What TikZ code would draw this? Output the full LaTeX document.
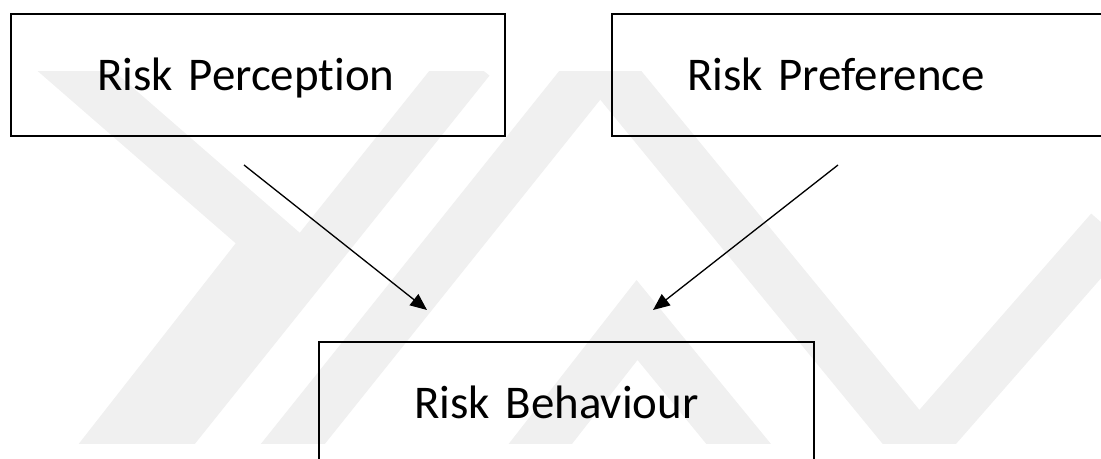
\documentclass[tikz,border=0pt]{standalone}
\usepackage{fontspec}
\setmainfont{Carlito}[Ligatures=NoCommon]
\usetikzlibrary{arrows.meta}
\tikzset{
  >={Triangle[length=9.5pt,width=8pt]},
}
\tikzstyle{box}=[draw,line width=1.3pt,anchor=north west,minimum height=2.44cm,
  align=left,text height=.9cm,text depth=.28cm,font=\fontsize{26.7}{32}\selectfont]
\tikzstyle{link}=[line width=.75pt,->]
\tikzstyle{band}=[line width=1cm,color=black!6]

\begin{document}
\begin{tikzpicture}[x=.02cm,y=-.02cm]
  \useasboundingbox (0,0) rectangle (1101,459);
  % faint background logo
  \begin{scope}
    \clip (0,72) rectangle (1101,443);
    \draw[band] (40,40)--(270,240)--(90,470);
    \draw[band] (470,60)--(150,460);
    \draw[band] (600,60)--(280,460);
    \draw[band] (520,470)--(637,320)--(760,470);
    \draw[band] (600,60)--(920,450);
    \draw[band] (1110,230)--(900,470);
  \end{scope}
  \clip (0,0) rectangle (1101,459);
  \node[box,minimum width=9.88cm,text width=6.44cm,inner xsep=1.72cm] (perc) at (10,13) {Risk Perception};
  \node[box,minimum width=10.4cm,text width=7.4cm,inner xsep=1.5cm] (pref) at (611,13) {Risk Preference};
  \node[box,minimum width=9.9cm,text width=6.1cm,inner xsep=1.9cm] (behav) at (318,341) {Risk Behaviour};
  \coordinate (percout) at (244,165);
  \coordinate (prefout) at (838,165);
  \coordinate (behavinl) at (427,310);
  \coordinate (behavinr) at (653,310);
  \draw[link] (percout)--(behavinl);
  \draw[link] (prefout)--(behavinr);
\end{tikzpicture}
\end{document}
